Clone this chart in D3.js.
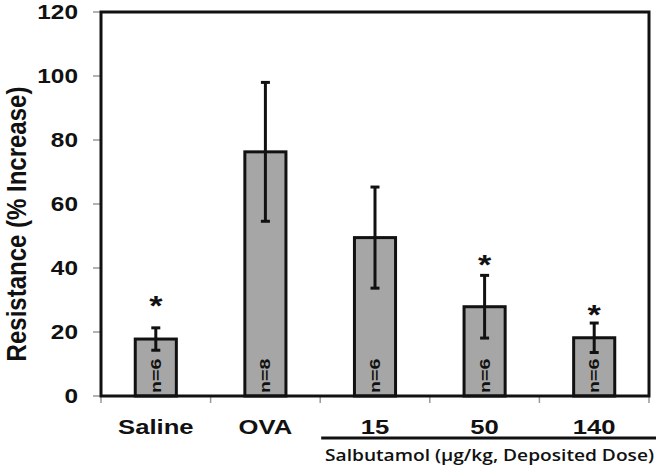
<!DOCTYPE html>
<html>
<head>
<meta charset="utf-8">
<script src="https://cdnjs.cloudflare.com/ajax/libs/d3/7.8.5/d3.min.js"></script>
<style>
  body { margin: 0; background: #fff; }
  text { font-family: "Liberation Sans", Arial, sans-serif; font-weight: bold; }
</style>
</head>
<body>
<div id="chart"></div>
<script>
// chart values
const groups = ["Saline", "OVA", "15", "50", "140"];
const means = [17.8, 76.3, 49.5, 27.9, 18.2];
const errors = [3.5, 21.7, 15.8, 9.8, 4.6];
const nLabels = ["n=6", "n=8", "n=6", "n=6", "n=6"];
const stars = [30.6, null, null, 43.5, 27.9];   // height of the * mark (data units)
const yTicks = [0, 20, 40, 60, 80, 100, 120];

const W = 657, H = 469;
const margin = {top: 12, right: 8, bottom: 73, left: 101};
const innerW = W - margin.left - margin.right,
      innerH = H - margin.top - margin.bottom;
const sx = 1.22; // the original figure is stretched sideways

const svg = d3.select("#chart").append("svg")
  .attr("width", W)
  .attr("height", H);

const g = svg.append("g")
  .attr("transform", `translate(${margin.left},${margin.top})`);

const x = d3.scaleBand()
  .domain(groups)
  .range([0, innerW])
  .paddingInner(0.625)
  .paddingOuter(0.3125);

const y = d3.scaleLinear()
  .domain([0, 120])
  .range([innerH, 0]);

// y ticks (small gray marks left of the axis)
g.selectAll(".ytick")
  .data(yTicks)
  .enter().append("line")
  .attr("x1", -8).attr("x2", 0)
  .attr("y1", d => y(d)).attr("y2", d => y(d))
  .attr("stroke", "#999").attr("stroke-width", 1.5);

g.selectAll(".ylab")
  .data(yTicks)
  .enter().append("text")
  .attr("transform", d => `translate(-23,${y(d) + 7}) scale(${sx},1)`)
  .attr("text-anchor", "end")
  .attr("font-size", 20)
  .attr("fill", "#111")
  .text(d => d);

// x ticks at band boundaries
const step = x.step();
const xBounds = d3.range(groups.length + 1).map(i => i * step);
g.selectAll(".xtick")
  .data(xBounds)
  .enter().append("line")
  .attr("x1", d => d).attr("x2", d => d)
  .attr("y1", innerH + 1).attr("y2", innerH + 7)
  .attr("stroke", "#999").attr("stroke-width", 1.5);

// bars
g.selectAll(".bar")
  .data(groups)
  .enter().append("rect")
  .attr("x", d => x(d))
  .attr("y", (d, i) => y(means[i]))
  .attr("width", x.bandwidth())
  .attr("height", (d, i) => innerH - y(means[i]))
  .attr("fill", "#a6a6a6")
  .attr("stroke", "#111")
  .attr("stroke-width", 3);

// n= labels inside bars
g.selectAll(".nlab")
  .data(groups)
  .enter().append("text")
  .attr("transform", d => `translate(${x(d) + x.bandwidth() / 2 + 5},${innerH - 3}) rotate(-90) scale(1.4,1.05)`)
  .attr("font-size", 14)
  .attr("fill", "#111")
  .text((d, i) => nLabels[i]);

// error bars
const cap = 4.5;
const err = g.selectAll(".err")
  .data(groups)
  .enter().append("g")
  .attr("stroke", "#111")
  .attr("stroke-width", 3);

err.append("line")
  .attr("x1", d => x(d) + x.bandwidth() / 2)
  .attr("x2", d => x(d) + x.bandwidth() / 2)
  .attr("y1", (d, i) => y(means[i] - errors[i]))
  .attr("y2", (d, i) => y(means[i] + errors[i]));

err.append("line")
  .attr("x1", d => x(d) + x.bandwidth() / 2 - cap)
  .attr("x2", d => x(d) + x.bandwidth() / 2 + cap)
  .attr("y1", (d, i) => y(means[i] + errors[i]))
  .attr("y2", (d, i) => y(means[i] + errors[i]));

err.append("line")
  .attr("x1", d => x(d) + x.bandwidth() / 2 - cap)
  .attr("x2", d => x(d) + x.bandwidth() / 2 + cap)
  .attr("y1", (d, i) => y(means[i] - errors[i]))
  .attr("y2", (d, i) => y(means[i] - errors[i]));

// significance stars
g.selectAll(".star")
  .data(groups.filter((d, i) => stars[i] != null))
  .enter().append("text")
  .attr("transform", d => `translate(${x(d) + x.bandwidth() / 2},${y(stars[groups.indexOf(d)]) + 17}) scale(${sx},1)`)
  .attr("text-anchor", "middle")
  .attr("font-size", 28)
  .attr("fill", "#111")
  .text("*");

// frame: axes plus top and right border
g.append("rect")
  .attr("x", 0).attr("y", 0)
  .attr("width", innerW).attr("height", innerH)
  .attr("fill", "none")
  .attr("stroke", "#111")
  .attr("stroke-width", 3);

// category labels
g.selectAll(".xlab")
  .data(groups)
  .enter().append("text")
  .attr("transform", d => `translate(${x(d) + x.bandwidth() / 2},${innerH + 38}) scale(1.25,1)`)
  .attr("text-anchor", "middle")
  .attr("font-size", 20.5)
  .attr("fill", "#111")
  .text(d => d);

// salbutamol bracket line and label
g.append("line")
  .attr("x1", xBounds[2] + 1).attr("x2", W - margin.left - 1)
  .attr("y1", innerH + 42).attr("y2", innerH + 42)
  .attr("stroke", "#111").attr("stroke-width", 3);

svg.append("text")
  .attr("x", 325).attr("y", 461)
  .attr("textLength", 329)
  .attr("lengthAdjust", "spacingAndGlyphs")
  .style("font-family", "'Open Sans', sans-serif")
  .style("font-weight", 600)
  .attr("font-size", 16)
  .attr("fill", "#111")
  .text("Salbutamol (\u00b5g/kg, Deposited Dose)");

// y axis title
svg.append("text")
  .attr("transform", `translate(26,${margin.top + innerH / 2 + 20}) scale(1.15,1) rotate(-90)`)
  .attr("text-anchor", "middle")
  .attr("font-size", 24)
  .attr("fill", "#111")
  .text("Resistance (% Increase)");
</script>
</body>
</html>
